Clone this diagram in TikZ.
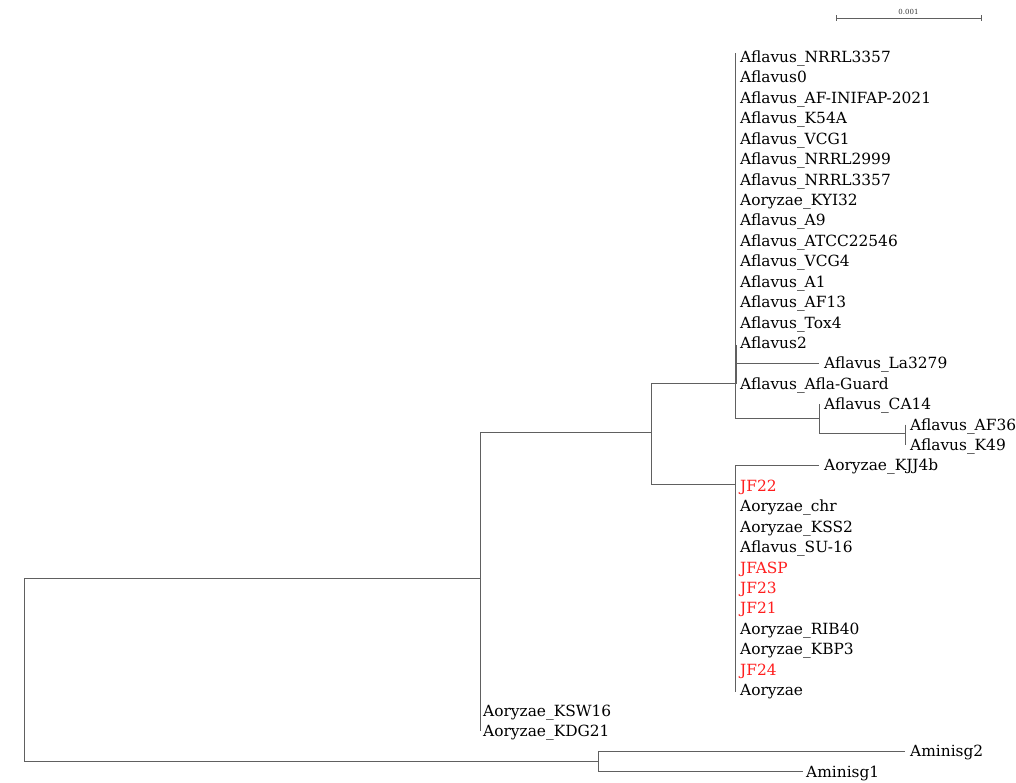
\documentclass[tikz,border=0pt]{standalone}
\usepackage{fontspec}
\setmainfont{DejaVu Serif}
\definecolor{brc}{HTML}{606060}
\definecolor{jfred}{HTML}{FF1E1E}
\begin{document}
\begin{tikzpicture}[x=1pt,y=-1pt,
  br/.style={draw=brc,line width=1pt},
  leaf/.style={anchor=west,inner sep=0pt,text height=11pt,text depth=1pt,font=\fontsize{15.4}{17}\selectfont,text=black,xshift=5pt},
  red leaf/.style={leaf,text=jfred}]
\useasboundingbox (0,0) rectangle (1016,782);
% leaf y positions: 57 + 20.42*i
% --- Aflavus cluster (node at x=735)
\coordinate (Ft) at (735,53);
\coordinate (Fb) at (735,418);
\draw[br] (Ft) -- (Fb);
\draw[br] (736.4,345) -- (736.4,384);
\node[leaf] (l0) at (735,57.5) {Aflavus\_NRRL3357};
\node[leaf] (l1) at (735,77.9) {Aflavus0};
\node[leaf] (l2) at (735,98.3) {Aflavus\_AF-INIFAP-2021};
\node[leaf] (l3) at (735,118.8) {Aflavus\_K54A};
\node[leaf] (l4) at (735,139.2) {Aflavus\_VCG1};
\node[leaf] (l5) at (735,159.6) {Aflavus\_NRRL2999};
\node[leaf] (l6) at (735,180.0) {Aflavus\_NRRL3357};
\node[leaf] (l7) at (735,200.4) {Aoryzae\_KYI32};
\node[leaf] (l8) at (735,220.9) {Aflavus\_A9};
\node[leaf] (l9) at (735,241.3) {Aflavus\_ATCC22546};
\node[leaf] (l10) at (735,261.7) {Aflavus\_VCG4};
\node[leaf] (l11) at (735,282.1) {Aflavus\_A1};
\node[leaf] (l12) at (735,302.5) {Aflavus\_AF13};
\node[leaf] (l13) at (735,323.0) {Aflavus\_Tox4};
\node[leaf] (l14) at (735,343.4) {Aflavus2};
\coordinate (Fla) at (735,363.3);
\node[leaf] (l15) at (819,363.8) {Aflavus\_La3279};
\draw[br] (Fla) -- (819,363.3);
\node[leaf] (l16) at (735,384.2) {Aflavus\_Afla-Guard};
% CA14 clade
\coordinate (C) at (819,418);
\draw[br] (Fb) -- (C);
\coordinate (Ct) at (819,404.1);
\coordinate (Cb) at (819,433.5);
\draw[br] (Ct) -- (Cb);
\node[leaf] (l17) at (819,404.6) {Aflavus\_CA14};
\coordinate (D) at (905,433.5);
\draw[br] (Cb) -- (D);
\coordinate (Dt) at (905,424.6);
\coordinate (Db) at (905,445.0);
\draw[br] (Dt) -- (Db);
\node[leaf] (l18) at (905,425.1) {Aflavus\_AF36};
\node[leaf] (l19) at (905,445.5) {Aflavus\_K49};
% --- Aoryzae cluster (node at x=735)
\coordinate (Ot) at (735,465.4);
\coordinate (Ob) at (735,691.5);
\draw[br] (Ot) -- (Ob);
\node[leaf] (l20) at (819,465.9) {Aoryzae\_KJJ4b};
\draw[br] (Ot) -- (819,465.4);
\node[red leaf] (l21) at (735,486.3) {JF22};
\node[leaf] (l22) at (735,506.7) {Aoryzae\_chr};
\node[leaf] (l23) at (735,527.2) {Aoryzae\_KSS2};
\node[leaf] (l24) at (735,547.6) {Aflavus\_SU-16};
\node[red leaf] (l25) at (735,568.0) {JFASP};
\node[red leaf] (l26) at (735,588.4) {JF23};
\node[red leaf] (l27) at (735,608.8) {JF21};
\node[leaf] (l28) at (735,629.3) {Aoryzae\_RIB40};
\node[leaf] (l29) at (735,649.7) {Aoryzae\_KBP3};
\node[red leaf] (l30) at (735,670.1) {JF24};
\node[leaf] (l31) at (735,690.5) {Aoryzae};
% --- node B (x=651)
\coordinate (Bt) at (651,383);
\coordinate (Bb) at (651,484.5);
\draw[br] (Bt) -- (Bb);
\draw[br] (Bt) -- (735,383);
\draw[br] (Bb) -- (735,484.5);
% --- node A (x=480)
\coordinate (At) at (480,432.5);
\coordinate (Ab) at (480,731);
\draw[br] (At) -- (Ab);
\draw[br] (At) -- (651,432.5);
\node[leaf,xshift=-2pt] (l32) at (480,711.0) {Aoryzae\_KSW16};
\node[leaf,xshift=-2pt] (l33) at (480,731.4) {Aoryzae\_KDG21};
% --- outgroup (x=598)
\coordinate (Gt) at (598,751.3);
\coordinate (Gb) at (598,771.7);
\draw[br] (Gt) -- (Gb);
\node[leaf] (l34) at (905,751.8) {Aminisg2};
\node[leaf,xshift=-2pt] (l35) at (803,772.2) {Aminisg1};
\draw[br] (Gt) -- (905,751.3);
\draw[br] (Gb) -- (803,771.7);
% --- root (x=24)
\coordinate (Rt) at (24,578);
\coordinate (Rb) at (24,761);
\draw[br] (Rt) -- (Rb);
\draw[br] (Rt) -- (480,578);
\draw[br] (Rb) -- (598,761);
% --- scale bar
\coordinate (S1) at (836,18);
\coordinate (S2) at (981,18);
\draw[br,line width=0.9pt] (S1) -- (S2);
\draw[br,line width=0.9pt] (836,15) -- (836,21);
\draw[br,line width=0.9pt] (981,15) -- (981,21);
\node[font=\fontsize{7}{8}\selectfont,inner sep=0pt,text=black!80] (sl) at (908.5,12) {0.001};
\end{tikzpicture}
\end{document}
